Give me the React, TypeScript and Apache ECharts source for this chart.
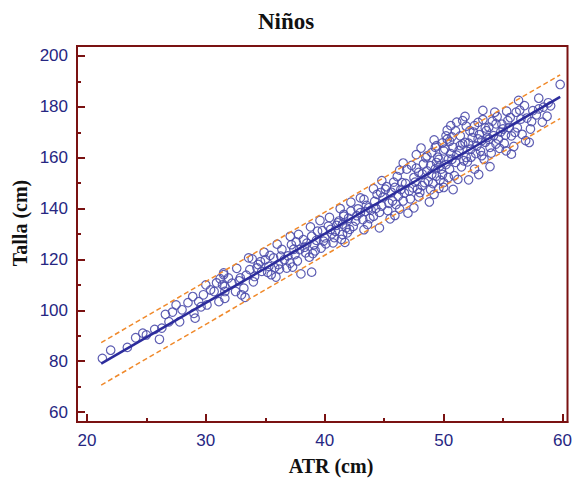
import React, { useEffect, useRef } from "react";
import * as echarts from "echarts";

const titleText = "Niños";
const xName = "ATR (cm)";
const yName = "Talla (cm)";

const xMajorTicks = [20, 30, 40, 50, 60];
const xMinorTicks = [25, 35, 45, 55];
const yMajorTicks = [60, 80, 100, 120, 140, 160, 180, 200];
const yMinorTicks = [70, 90, 110, 130, 150, 170, 190];

const regLine = [[21.2, 79.0], [59.8, 183.9]];
const upperBand = [[21.2, 87.3], [59.8, 192.6]];
const lowerBand = [[21.2, 70.6], [59.8, 175.4]];

const points = [
  [21.3, 81.1], [22.0, 84.3], [23.4, 85.4], [24.1, 89.2], [25.0, 90.3], [25.7, 92.5], [26.1, 88.6], [26.6, 98.4],
  [26.9, 95.5], [27.5, 102.1], [28.0, 100.2], [27.8, 95.5], [28.9, 105.4], [29.0, 98.8], [29.1, 96.9], [30.0, 110.0],
  [29.4, 103.4], [29.8, 106.1], [30.1, 102.1], [30.7, 107.4], [31.1, 103.4], [31.5, 114.0], [31.6, 109.4],
  [31.5, 114.7], [31.9, 112.7], [31.4, 110.0], [32.2, 110.7], [31.6, 107.4], [32.5, 107.4], [32.9, 112.7], [33.2, 108.7],
  [33.0, 106.1], [33.6, 120.6], [33.7, 116.0], [34.1, 113.3], [34.4, 118.0], [34.7, 115.3], [35.0, 119.9], [35.3, 117.3],
  [35.5, 114.0], [35.7, 120.6], [36.1, 118.0], [36.4, 123.9], [36.6, 119.9], [37.1, 118.6], [37.2, 125.8], [37.5, 121.9],
  [37.8, 129.8], [37.9, 123.9], [38.2, 127.8], [38.4, 122.6], [38.0, 114.3], [38.9, 115.0], [38.9, 129.1], [39.1, 125.8],
  [39.4, 131.1], [39.7, 124.5], [40.0, 128.5], [40.3, 133.1], [40.7, 126.5], [40.9, 131.1], [41.2, 135.1], [41.5, 129.8],
  [41.6, 137.7], [41.8, 132.4], [31.6, 104.7],
  [40.5, 131.8], [41.1, 134.4], [41.6, 137.0], [41.9, 130.5], [42.2, 139.0], [42.6, 135.1], [43.0, 138.4], [43.3, 143.6],
  [43.6, 133.7], [43.7, 140.3], [44.1, 137.0], [44.4, 145.6], [44.6, 132.4], [44.8, 141.0], [45.1, 147.6], [45.5, 136.0],
  [45.7, 143.0], [45.9, 148.3], [46.2, 144.9], [46.5, 150.2], [46.6, 143.0], [46.9, 155.5], [47.1, 146.9], [47.5, 140.3],
  [47.5, 152.2], [47.8, 147.6], [47.9, 154.2], [48.3, 157.5], [48.4, 150.2], [48.6, 160.7], [49.0, 153.5], [49.2, 145.6],
  [49.3, 164.1], [49.4, 158.1], [49.8, 155.5], [50.0, 148.3], [50.1, 163.4], [50.2, 168.6], [50.4, 159.4],
  [49.4, 164.7], [50.0, 162.7], [49.7, 156.8], [50.3, 167.3], [50.7, 159.4], [50.5, 155.5], [50.8, 164.1], [51.1, 174.0],
  [51.6, 174.6], [51.4, 168.6], [51.2, 151.5], [51.6, 165.4], [51.9, 160.1], [52.2, 170.6], [52.3, 163.4], [52.6, 155.5],
  [52.95, 153.4], [52.9, 173.9], [53.2, 166.7], [53.4, 159.4], [53.6, 170.6], [53.9, 164.1], [54.3, 177.9], [54.4, 173.3],
  [54.6, 167.3], [55.0, 171.3], [55.25, 162.7], [55.4, 174.6], [55.7, 168.6], [56.1, 177.9], [56.3, 182.5], [56.5, 175.2],
  [56.9, 166.7], [56.8, 180.5], [57.3, 171.3], [57.5, 178.5], [58.0, 183.4], [58.0, 179.2], [58.4, 179.9], [58.7, 176.3],
  [59.8, 188.8], [50.0, 150.2], [49.6, 148.0], [49.4, 152.8],
  [32.8, 111.6], [33.4, 113.8], [34.0, 111.2], [34.6, 119.1], [35.2, 114.9], [35.8, 116.8], [36.3, 121.3], [36.8, 116.6],
  [37.4, 124.0], [37.7, 119.4], [38.5, 126.4], [38.7, 120.9], [39.3, 127.5], [39.8, 131.3], [40.1, 126.1], [40.6, 130.1],
  [41.0, 133.4], [41.4, 127.9], [42.0, 136.2], [42.4, 133.0], [42.8, 139.9], [43.2, 135.7], [43.5, 141.2], [43.9, 139.4],
  [44.2, 142.8], [44.6, 138.5], [44.9, 144.5], [45.3, 139.2], [45.6, 146.4], [46.0, 141.6], [46.4, 147.5], [46.8, 149.9],
  [47.2, 143.8], [47.6, 150.4], [48.0, 146.3], [48.2, 153.6], [48.7, 150.8], [48.9, 156.9], [49.1, 149.8], [49.5, 160.2],
  [49.9, 153.4], [50.2, 157.3], [50.6, 161.6], [50.9, 152.9], [51.0, 158.2], [51.3, 162.9], [51.5, 156.4], [51.8, 166.0],
  [52.0, 158.4], [52.4, 167.9], [52.7, 161.6], [53.0, 169.1], [53.1, 162.6], [53.5, 166.1], [53.8, 172.0], [54.0, 161.8],
  [54.2, 168.7], [54.8, 170.1], [55.1, 165.6], [55.5, 171.9], [55.9, 164.4], [56.2, 171.8], [56.6, 169.2], [57.0, 175.6],
  [57.8, 176.9], [58.3, 174.0], [59.0, 180.4],
  [45.2, 148.6], [46.1, 152.6], [47.3, 157.0], [47.9, 144.6], [48.5, 160.0], [49.0, 162.0], [49.7, 151.2], [50.5, 166.5],
  [51.0, 170.5], [51.9, 172.4], [52.5, 170.1], [52.8, 164.6], [53.3, 175.0], [53.7, 168.0], [54.5, 176.1], [55.3, 178.3],
  [54.7, 163.7], [50.3, 170.8], [49.2, 167.0], [48.1, 163.8], [46.6, 157.9], [44.1, 147.8], [43.0, 144.2], [42.2, 142.5],
  [41.3, 140.0], [40.4, 136.5], [39.6, 135.3], [38.8, 132.8], [37.1, 129.1], [36.0, 126.0], [34.9, 122.8], [33.9, 120.2],
  [32.6, 116.5], [31.2, 112.4], [30.4, 108.0], [29.6, 101.4], [28.5, 103.0], [27.2, 99.3], [26.3, 93.0], [24.7, 91.0],
  [33.3, 105.1], [35.9, 113.1], [37.3, 117.0], [39.0, 122.3], [41.7, 126.7], [43.3, 131.7], [45.9, 137.3], [47.0, 138.2],
  [48.8, 142.6], [50.8, 147.5], [52.1, 151.3], [53.9, 156.5], [55.7, 161.4], [57.2, 166.0],
  [36.2, 116.2], [36.9, 121.4], [37.6, 126.9], [38.3, 124.8], [39.2, 123.4], [39.9, 127.2], [40.8, 128.6], [41.5, 133.9],
  [42.1, 131.8], [42.7, 137.2], [43.4, 138.9], [43.8, 136.1], [44.3, 140.1], [44.7, 146.3], [45.4, 142.1], [45.8, 150.4],
  [46.3, 139.8], [46.7, 146.1], [47.4, 148.2], [47.7, 155.9], [48.2, 149.0], [48.6, 154.8], [48.9, 147.4], [49.3, 155.6],
  [49.6, 159.3], [49.9, 165.8], [50.4, 152.2], [50.7, 168.2], [51.1, 161.0], [51.4, 164.8], [51.7, 158.8], [52.1, 165.7],
  [52.3, 160.2], [52.6, 172.6], [52.9, 167.4], [53.2, 160.8], [53.5, 171.7], [53.8, 167.2], [54.1, 174.4], [54.4, 165.4],
  [54.9, 173.2], [55.2, 168.9], [55.6, 175.8], [56.0, 170.0], [56.4, 178.7], [57.4, 174.2], [58.8, 181.6], [30.9, 110.8],
  [34.3, 116.7], [35.4, 121.6], [47.7, 161.2], [46.3, 155.1], [44.8, 151.0], [51.8, 176.2], [50.6, 172.6], [53.3, 178.6]
];

const AXIS_COLOR = "#7a1212";
const LABEL_COLOR = "#262682";
const X_MIN = 19.167;
const X_MAX = 60.417;
const Y_MIN = 56.07;
const Y_MAX = 203.93;

export default function App() {
  const ref = useRef<HTMLDivElement>(null);
  useEffect(() => {
    if (!ref.current) return;
    const chart = echarts.init(ref.current, null, { renderer: "svg" });
    const serif = "'Liberation Serif', 'Times New Roman', serif";
    const sans = "'Liberation Sans', Arial, sans-serif";
    chart.setOption({
      animation: false,
      backgroundColor: "#ffffff",
      title: {
        text: titleText,
        left: 253,
        top: 5,
        textStyle: { fontFamily: serif, fontWeight: "bold", fontSize: 23, color: "#111" },
      },
      grid: {
        left: 77,
        right: 3,
        top: 46,
        bottom: 57,
        show: true,
        borderColor: AXIS_COLOR,
        borderWidth: 2,
        backgroundColor: "#ffffff",
      },
      graphic: [
        {
          type: "text",
          x: 20,
          y: 223,
          rotation: Math.PI / 2,
          style: {
            text: yName,
            fontFamily: serif,
            fontWeight: "bold",
            fontSize: 20,
            fill: "#111",
            textAlign: "center",
            textVerticalAlign: "middle",
          },
        },
        {
          type: "text",
          x: 331,
          y: 466,
          style: {
            text: xName,
            fontFamily: serif,
            fontWeight: "bold",
            fontSize: 20,
            fill: "#111",
            textAlign: "center",
            textVerticalAlign: "middle",
          },
        },
      ],
      xAxis: [
        {
          type: "value",
          min: X_MIN,
          max: X_MAX,
          splitLine: { show: false },
          axisLine: { show: true, lineStyle: { color: AXIS_COLOR, width: 2 } },
          axisTick: {
            show: true,
            inside: true,
            length: 8,
            customValues: xMajorTicks,
            lineStyle: { color: AXIS_COLOR, width: 2 },
          },
          axisLabel: {
            customValues: xMajorTicks,
            color: LABEL_COLOR,
            fontFamily: sans,
            fontSize: 17,
            margin: 10,
            showMinLabel: true,
            showMaxLabel: true,
          },
        },
        {
          type: "value",
          min: X_MIN,
          max: X_MAX,
          position: "bottom",
          splitLine: { show: false },
          axisLine: { show: false },
          axisTick: {
            show: true,
            inside: true,
            length: 4,
            customValues: xMinorTicks,
            lineStyle: { color: AXIS_COLOR, width: 2 },
          },
          axisLabel: { show: false },
        },
      ],
      yAxis: [
        {
          type: "value",
          min: Y_MIN,
          max: Y_MAX,
          splitLine: { show: false },
          axisLine: { show: true, lineStyle: { color: AXIS_COLOR, width: 2 } },
          axisTick: {
            show: true,
            inside: true,
            length: 8,
            customValues: yMajorTicks,
            lineStyle: { color: AXIS_COLOR, width: 2 },
          },
          axisLabel: {
            customValues: yMajorTicks,
            color: LABEL_COLOR,
            fontFamily: sans,
            fontSize: 17,
            margin: 9,
            showMinLabel: true,
            showMaxLabel: true,
          },
        },
        {
          type: "value",
          min: Y_MIN,
          max: Y_MAX,
          position: "left",
          splitLine: { show: false },
          axisLine: { show: false },
          axisTick: {
            show: true,
            inside: true,
            length: 4,
            customValues: yMinorTicks,
            lineStyle: { color: AXIS_COLOR, width: 2 },
          },
          axisLabel: { show: false },
        },
      ],
      series: [
        {
          type: "scatter",
          data: points,
          symbol: "circle",
          symbolSize: 8.5,
          itemStyle: {
            color: "rgba(255,255,255,0)",
            borderColor: "#4d4dab",
            borderWidth: 1.2,
            opacity: 0.9,
          },
          z: 2,
        },
        {
          type: "line",
          data: regLine,
          showSymbol: false,
          lineStyle: { color: "#2c2c9c", width: 2.5 },
          z: 4,
        },
        {
          type: "line",
          data: upperBand,
          showSymbol: false,
          lineStyle: { color: "#f08a2c", width: 1.5, type: [5, 3] },
          z: 3,
        },
        {
          type: "line",
          data: lowerBand,
          showSymbol: false,
          lineStyle: { color: "#f08a2c", width: 1.5, type: [5, 3] },
          z: 3,
        },
      ],
    });
    return () => chart.dispose();
  }, []);
  return (
    <div
      ref={ref}
      style={{ position: "absolute", left: 0, top: 0, width: 575, height: 479, background: "#fff" }}
    />
  );
}
